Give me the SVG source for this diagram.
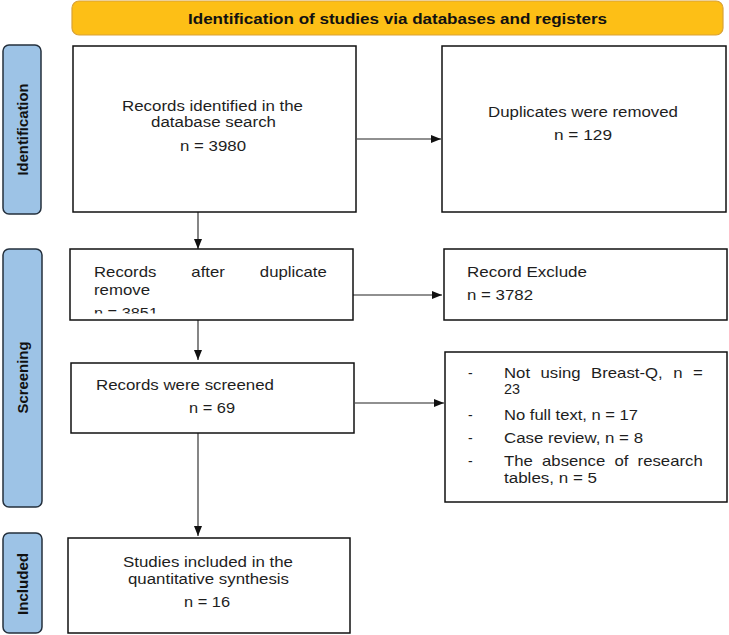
<svg xmlns="http://www.w3.org/2000/svg" width="729" height="635" viewBox="0 0 729 635">
<style>
.box{fill:#fff;stroke:#111;stroke-width:1.5}
.side{fill:#9dc3e6;stroke:#24303d;stroke-width:1.5}
.hdr{fill:#fdbf16;stroke:#d9a236;stroke-width:1.2}
.t{font-family:"Liberation Sans",Arial,sans-serif;font-size:14px;fill:#1e1e1e}
.b{font-family:"Liberation Sans",Arial,sans-serif;font-size:14px;font-weight:bold;fill:#111}
.ln{stroke:#222;stroke-width:1.1;fill:none}
</style>
<defs>
<marker id="ah" viewBox="0 0 10 10" refX="10" refY="5" markerWidth="10" markerHeight="10" markerUnits="userSpaceOnUse" orient="auto">
<path d="M0,1 L10,5 L0,9 z" fill="#111"/>
</marker>
<clipPath id="clip3"><rect x="70" y="249" width="283" height="64.5"/></clipPath>
</defs>

<g id="header">
<rect class="hdr" x="72" y="1" width="651" height="34" rx="7"/>
<text class="b" x="188" y="24" textLength="419" lengthAdjust="spacingAndGlyphs">Identification of studies via databases and registers</text>
</g>

<g id="side-identification">
<rect class="side" x="3" y="45" width="38" height="169" rx="6"/>
<text class="b" x="28" y="129.5" text-anchor="middle" transform="rotate(-90 28 129.5)" textLength="92" lengthAdjust="spacingAndGlyphs">Identification</text>
</g>
<g id="side-screening">
<rect class="side" x="3" y="249" width="39" height="258" rx="6"/>
<text class="b" x="28" y="377.5" text-anchor="middle" transform="rotate(-90 28 377.5)" textLength="72" lengthAdjust="spacingAndGlyphs">Screening</text>
</g>
<g id="side-included">
<rect class="side" x="3" y="533" width="39" height="100" rx="6"/>
<text class="b" x="28" y="584" text-anchor="middle" transform="rotate(-90 28 584)" textLength="62" lengthAdjust="spacingAndGlyphs">Included</text>
</g>

<g id="connectors">
<line class="ln" x1="357" y1="139" x2="441" y2="139" marker-end="url(#ah)"/>
<line class="ln" x1="198" y1="212" x2="198" y2="249" marker-end="url(#ah)"/>
<line class="ln" x1="353" y1="295" x2="442" y2="295" marker-end="url(#ah)"/>
<line class="ln" x1="198" y1="320" x2="198" y2="360" marker-end="url(#ah)"/>
<line class="ln" x1="355" y1="403" x2="444" y2="403" marker-end="url(#ah)"/>
<line class="ln" x1="198" y1="433" x2="198" y2="536" marker-end="url(#ah)"/>
</g>

<g id="records-identified">
<rect class="box" x="73" y="46" width="283" height="166"/>
<text class="t" x="122" y="110.5" textLength="181" lengthAdjust="spacingAndGlyphs">Records identified in the</text>
<text class="t" x="151" y="127" textLength="125" lengthAdjust="spacingAndGlyphs">database search</text>
<text class="t" x="180" y="151" textLength="66" lengthAdjust="spacingAndGlyphs">n = 3980</text>
</g>

<g id="duplicates-removed">
<rect class="box" x="442" y="46" width="284" height="166"/>
<text class="t" x="488" y="117" textLength="190" lengthAdjust="spacingAndGlyphs">Duplicates were removed</text>
<text class="t" x="554" y="140" textLength="58" lengthAdjust="spacingAndGlyphs">n = 129</text>
</g>

<g id="records-after-duplicate">
<rect class="box" x="70" y="249" width="283" height="71"/>
<text class="t" x="0" y="0" transform="translate(94 277) scale(1.196 1)" style="word-spacing:25.4px">Records after duplicate</text>
<text class="t" x="94" y="294.5" textLength="56" lengthAdjust="spacingAndGlyphs">remove</text>
<text class="t" x="94" y="318" textLength="64" lengthAdjust="spacingAndGlyphs" clip-path="url(#clip3)">n = 3851</text>
</g>

<g id="record-exclude">
<rect class="box" x="444" y="249" width="283" height="71"/>
<text class="t" x="467" y="277" textLength="120" lengthAdjust="spacingAndGlyphs">Record Exclude</text>
<text class="t" x="467" y="300" textLength="66" lengthAdjust="spacingAndGlyphs">n = 3782</text>
</g>

<g id="records-screened">
<rect class="box" x="71" y="363" width="283" height="70"/>
<text class="t" x="96" y="390" textLength="178" lengthAdjust="spacingAndGlyphs">Records were screened</text>
<text class="t" x="189" y="413" textLength="46" lengthAdjust="spacingAndGlyphs">n = 69</text>
</g>

<g id="exclusion-reasons">
<rect class="box" x="445" y="352" width="282" height="150"/>
<text class="t" x="468" y="378">-</text>
<text class="t" x="0" y="0" transform="translate(504 378) scale(1.196 1)" style="word-spacing:4.9px">Not using Breast-Q, n =</text>
<text class="t" x="504" y="394" textLength="16" lengthAdjust="spacingAndGlyphs">23</text>
<text class="t" x="468" y="420">-</text>
<text class="t" x="504" y="420" textLength="134" lengthAdjust="spacingAndGlyphs">No full text, n = 17</text>
<text class="t" x="468" y="443">-</text>
<text class="t" x="504" y="443" textLength="139" lengthAdjust="spacingAndGlyphs">Case review, n = 8</text>
<text class="t" x="468" y="466">-</text>
<text class="t" x="0" y="0" transform="translate(504 466) scale(1.196 1)" style="word-spacing:3.8px">The absence of research</text>
<text class="t" x="504" y="483" textLength="93" lengthAdjust="spacingAndGlyphs">tables, n = 5</text>
</g>

<g id="studies-included">
<rect class="box" x="68" y="538" width="282" height="95"/>
<text class="t" x="123" y="567" textLength="170" lengthAdjust="spacingAndGlyphs">Studies included in the</text>
<text class="t" x="128" y="583.5" textLength="161" lengthAdjust="spacingAndGlyphs">quantitative synthesis</text>
<text class="t" x="184" y="607" textLength="46" lengthAdjust="spacingAndGlyphs">n = 16</text>
</g>
</svg>
